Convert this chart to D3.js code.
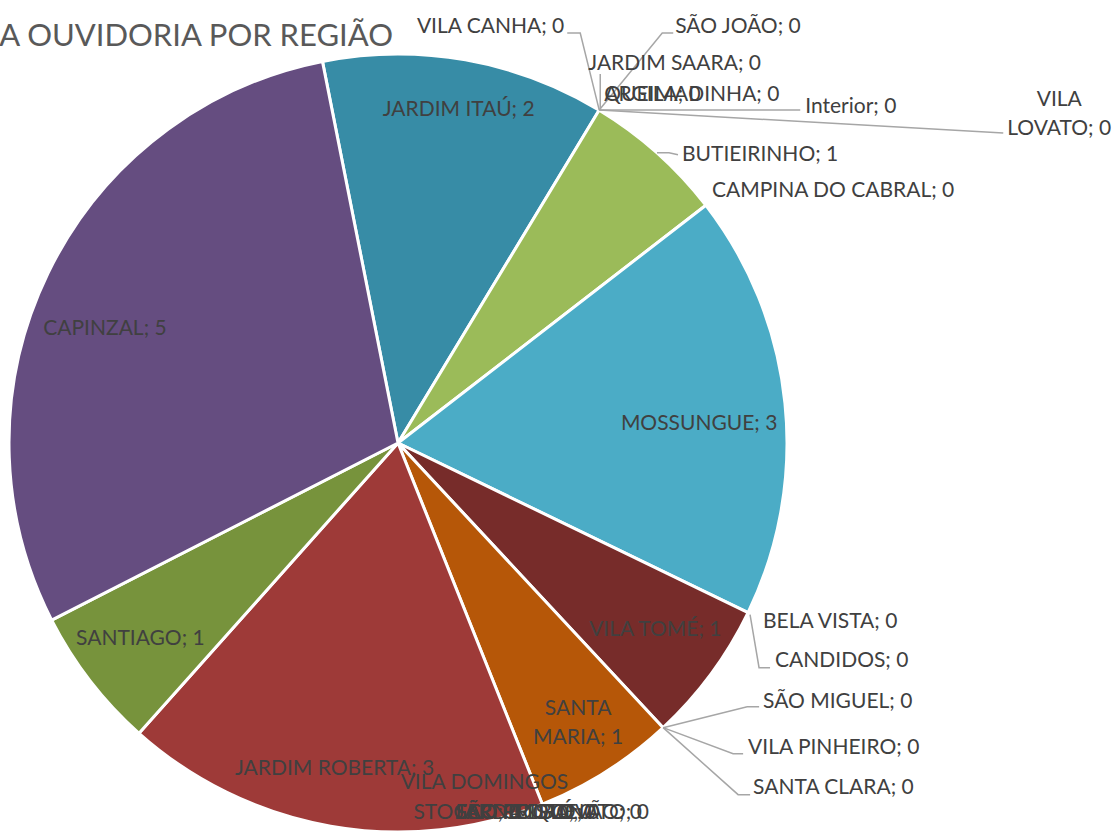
<!DOCTYPE html>
<html><head><meta charset="utf-8">
<script src="https://cdn.jsdelivr.net/npm/d3@7"></script>
<style>
html,body{margin:0;padding:0;background:#fff;overflow:hidden;}
svg{display:block;}
text{font-family:Lato,"Open Sans",sans-serif;}
</style></head>
<body>
<svg id="chart" width="1117" height="832"></svg>
<script>
// ---- data ----
const title = "DA OUVIDORIA POR REGIÃO";
const categories = ["JARDIM ITAÚ","VILA CANHA","SÃO JOÃO","JARDIM SAARA","ARGILA","QUEIMADINHA","Interior","VILA LOVATO",
  "BUTIEIRINHO","CAMPINA DO CABRAL","MOSSUNGUE","BELA VISTA","CANDIDOS","VILA TOMÉ","SÃO MIGUEL","VILA PINHEIRO","SANTA CLARA",
  "SANTA MARIA","VILA DOMINGOS STOCCO","SÃO ROQUE","JARDIM BONATO","FERNANDA","SÃO PEDRO","SÃO CRISTÓVÃO",
  "JARDIM ROBERTA","SANTIAGO","CAPINZAL"];
const values = [2,0,0,0,0,0,0,0, 1,0,3,0,0,1,0,0,0, 1,0,0,0,0,0,0, 3,1,5];
const sliceColors = ["#378CA6","#378CA6","#378CA6","#378CA6","#378CA6","#378CA6","#378CA6","#378CA6",
  "#9BBB59","#9BBB59","#4BACC6","#4BACC6","#4BACC6","#772C2A","#772C2A","#772C2A","#772C2A",
  "#B65708","#B65708","#B65708","#B65708","#B65708","#B65708","#B65708",
  "#9E3A38","#77933C","#654D80"];

// ---- layout (label placement, not data) ----
const cx = 398, cy = 443, R = 389;
const startDeg = -11.2;
// inside labels: radial factor, angle tweak (deg) and line breaks
const insideLabels = {
  "JARDIM ITAÚ": {f:0.874, da:0.3, lines:["JARDIM ITAÚ; 2"]},
  "MOSSUNGUE": {f:0.776, da:2, lines:["MOSSUNGUE; 3"]},
  "VILA TOMÉ": {f:0.815, da:-0.7, lines:["VILA TOMÉ; 1"]},
  "SANTA MARIA": {f:0.853, da:-0.5, lines:["SANTA","MARIA; 1"]},
  "JARDIM ROBERTA": {f:0.85, da:1.1, lines:["JARDIM ROBERTA; 3"]},
  "SANTIAGO": {f:0.83, da:0.6, lines:["SANTIAGO; 1"]},
  "CAPINZAL": {f:0.81, da:-4.3, lines:["CAPINZAL; 5"]}
};
// outside labels: offsets from anchor point on the rim (start angle for empty slices, mid angle otherwise)
const outsideLabels = {
  "VILA CANHA": {dx:-35, dy:-85, a:"end", leader:[[0,0],[-19,-77],[-32,-77]]},
  "SÃO JOÃO": {dx:76, dy:-85, a:"start", leader:[[0,0],[63,-77],[74,-77]]},
  "JARDIM SAARA": {dx:-11, dy:-48, a:"start", leader:[[1,0],[1,-36]]},
  "ARGILA": {dx:5, dy:-17, a:"start"},
  "QUEIMADINHA": {dx:5, dy:-17, a:"start"},
  "Interior": {dx:206, dy:-5, a:"start", leader:[[0,0],[201,0]]},
  "VILA LOVATO": {dx:460, dy:-12, a:"middle", lines:["VILA","LOVATO; 0"], leader:[[0,0],[404,23]]},
  "BUTIEIRINHO": {dx:25, dy:1, a:"start", leader:[[0,0],[12,0],[21,2]]},
  "CAMPINA DO CABRAL": {dx:6, dy:-16, a:"start"},
  "BELA VISTA": {dx:15, dy:8, a:"start"},
  "CANDIDOS": {dx:27, dy:47, a:"start", leader:[[2,2],[11,55],[22,55]]},
  "SÃO MIGUEL": {dx:100, dy:-27, a:"start", leader:[[0,0],[84,-21],[96,-21]]},
  "VILA PINHEIRO": {dx:85, dy:19, a:"start", leader:[[0,0],[70,26],[80,26]]},
  "SANTA CLARA": {dx:90, dy:59, a:"start", leader:[[0,0],[75,67],[87,67]]},
  "VILA DOMINGOS STOCCO": {dx:-58, dy:-23, a:"middle", lines:["VILA DOMINGOS"], second:{dx:-129, dy:7, text:"STOCCO; 0"}},
  "SÃO ROQUE": {dx:-87, dy:7, a:"start"},
  "JARDIM BONATO": {dx:-87, dy:7, a:"start"},
  "FERNANDA": {dx:-87, dy:7, a:"start"},
  "SÃO PEDRO": {dx:-87, dy:7, a:"start"},
  "SÃO CRISTÓVÃO": {dx:-87, dy:7, a:"start"}
};
const labelColor = "#404040", leaderColor = "#A6A6A6";
const labelSize = 21, lineGap = 29;

// ---- drawing ----
const svg = d3.select("#chart");
const toRad = d => d * Math.PI / 180;
const data = categories.map((c,i)=>({name:c, value:values[i], color:sliceColors[i]}));
const pie = d3.pie().value(d=>d.value).sort(null)
  .startAngle(toRad(startDeg)).endAngle(toRad(startDeg)+2*Math.PI);
const arcs = pie(data);
const arc = d3.arc().innerRadius(0).outerRadius(R);

const g = svg.append("g").attr("transform",`translate(${cx},${cy})`);
g.selectAll("path.slice").data(arcs.filter(d=>d.data.value>0)).join("path")
  .attr("class","slice").attr("d",arc)
  .attr("fill",d=>d.data.color).attr("stroke","#fff").attr("stroke-width",3).attr("stroke-linejoin","round");

const rim = (ang, r=R) => [r*Math.sin(ang), -r*Math.cos(ang)];

// inside labels
arcs.forEach(d=>{
  const L = insideLabels[d.data.name];
  if(!L) return;
  const mid = (d.startAngle+d.endAngle)/2 + toRad(L.da);
  const [x,y] = rim(mid, R*L.f);
  const n = L.lines.length;
  L.lines.forEach((t,i)=>{
    g.append("text").attr("x",x).attr("y",y+(i-(n-1)/2)*lineGap).attr("dy","0.36em")
      .attr("text-anchor","middle").attr("font-size",labelSize).attr("fill",labelColor).text(t);
  });
});

// outside labels
const line = d3.line();
arcs.forEach(d=>{
  const L = outsideLabels[d.data.name];
  if(!L) return;
  const ang = d.data.value>0 ? (d.startAngle+d.endAngle)/2 : d.startAngle;
  const [ax,ay] = rim(ang);
  if(L.leader){
    g.append("path").attr("d",line(L.leader.map(p=>[ax+p[0],ay+p[1]])))
      .attr("fill","none").attr("stroke",leaderColor).attr("stroke-width",1.5);
  }
  const lines = L.lines || [`${d.data.name}; ${d.data.value}`];
  lines.forEach((t,i)=>{
    g.append("text").attr("x",ax+L.dx).attr("y",ay+L.dy+i*lineGap).attr("dy","0.36em")
      .attr("text-anchor",L.a).attr("font-size",labelSize).attr("fill",labelColor).text(t);
  });
  if(L.second){
    g.append("text").attr("x",ax+L.second.dx).attr("y",ay+L.second.dy).attr("dy","0.36em")
      .attr("text-anchor","start").attr("font-size",labelSize).attr("fill",labelColor).text(L.second.text);
  }
});

// title
svg.append("text").attr("x",393).attr("y",46).attr("text-anchor","end")
  .attr("font-size",31).attr("fill","#595959").text(title);
</script>
</body></html>
